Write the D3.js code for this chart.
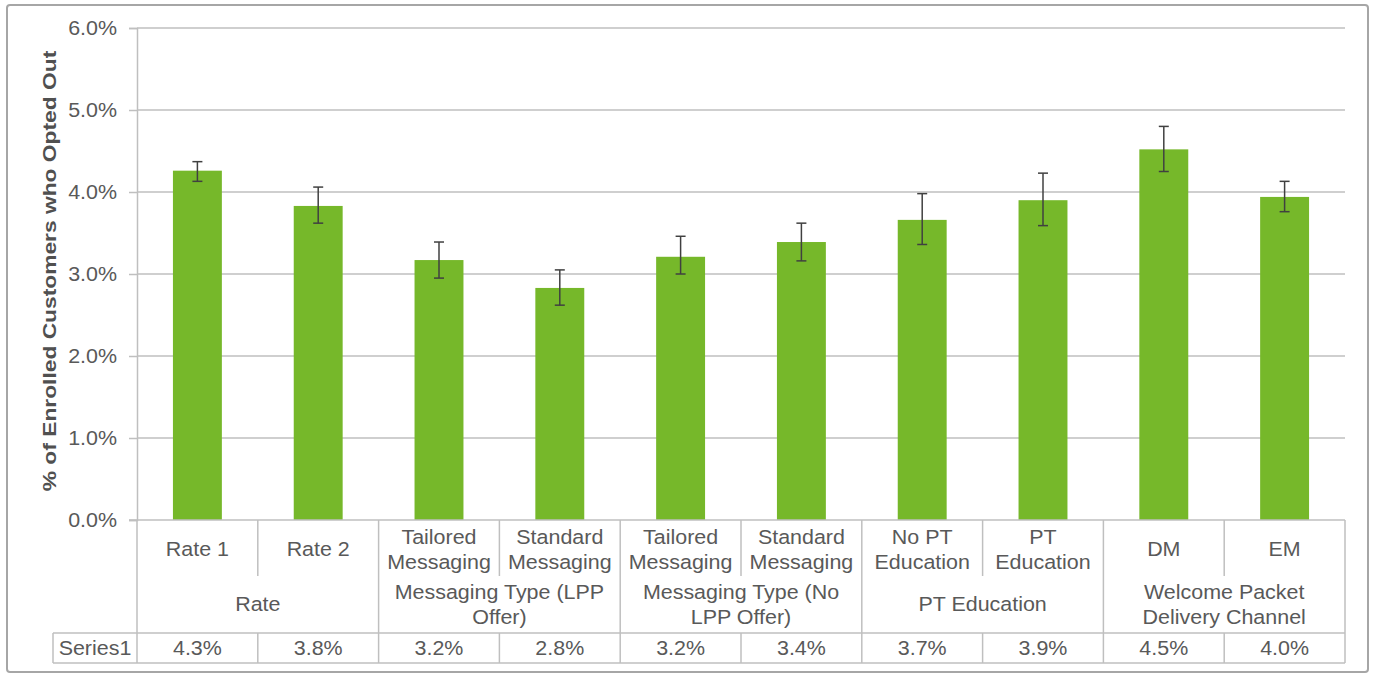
<!DOCTYPE html>
<html><head><meta charset="utf-8">
<script src="https://cdn.jsdelivr.net/npm/d3@7"></script>
<style>
html,body{margin:0;padding:0;background:#fff;}
svg{display:block;font-family:"Liberation Sans",Arial,sans-serif;}
</style></head>
<body><svg id="c" width="1375" height="673"></svg>
<script>
// ---- data ----
const categoryLabels = ["Rate 1","Rate 2","Tailored\nMessaging","Standard\nMessaging","Tailored\nMessaging","Standard\nMessaging","No PT\nEducation","PT\nEducation","DM","EM"];
const groupLabels = ["Rate","Messaging Type (LPP\nOffer)","Messaging Type (No\nLPP Offer)","PT Education","Welcome Packet\nDelivery Channel"];
const groupSizes = [2,2,2,2,2];
const values   = [4.26,3.83,3.17,2.83,3.21,3.39,3.66,3.90,4.52,3.94];
const errHigh  = [4.37,4.06,3.39,3.05,3.46,3.62,3.98,4.23,4.80,4.13];
const errLow   = [4.13,3.62,2.95,2.62,3.00,3.16,3.36,3.59,4.25,3.76];
const tableLabels = ["4.3%","3.8%","3.2%","2.8%","3.2%","3.4%","3.7%","3.9%","4.5%","4.0%"];
const seriesName = "Series1";
const yTicks = [0,1,2,3,4,5,6];
const yTitle = "% of Enrolled Customers who Opted Out";

// ---- layout ----
const L = 137, R = 1345, T = 28, B = 520;
const catRowBottom = 576, tableTop = 633, tableBottom = 663, seriesLeft = 53;
const textColor = "#595959", gridColor = "#bfbfbf", lineColor = "#bfbfbf", barColor = "#76b82a";
const fs = 19.5, sx = 1.1, lh = 25;

const svg = d3.select("#c");
svg.append("rect").attr("x",7).attr("y",5).attr("width",1361).attr("height",667)
  .attr("rx",3).attr("fill","#fff").attr("stroke","#a6a6a6").attr("stroke-width",2);

const idx = d3.range(values.length);
const y = d3.scaleLinear().domain([0,6]).range([B,T]);
const xCell = d3.scaleBand().domain(idx).range([L,R]).padding(0);
const xBar = d3.scaleBand().domain(idx).range([L,R]).paddingInner(0.595).paddingOuter(0.2975);

function addText(x, yy, str, opts={}){
  const g = svg.append("g").attr("transform",`translate(${x},${yy}) scale(${opts.sx||sx},1)`);
  const lines = str.split("\n");
  const off = -(lines.length-1)*lh/2;
  lines.forEach((ln,i)=>{
    g.append("text").attr("x",0).attr("y",off+i*lh)
      .attr("text-anchor",opts.anchor||"middle").attr("dominant-baseline","central")
      .attr("font-size",opts.size||fs).attr("font-weight",opts.weight||"normal")
      .attr("fill",textColor).text(ln);
  });
  return g;
}

// gridlines
svg.append("g").selectAll("line").data(yTicks.filter(d=>d>0)).join("line")
  .attr("x1",L).attr("x2",R).attr("y1",d=>y(d)).attr("y2",d=>y(d))
  .attr("stroke",gridColor).attr("stroke-width",1.5);

// y axis via d3
const yAxis = svg.append("g").attr("transform",`translate(${L},0)`)
  .call(d3.axisLeft(y).tickValues(yTicks).tickSize(8).tickFormat(()=>""));
yAxis.select(".domain").attr("stroke",lineColor).attr("stroke-width",1.5);
yAxis.selectAll(".tick line").attr("stroke",lineColor).attr("stroke-width",1.5);
yTicks.forEach(t=>addText(117, y(t), d3.format(".1f")(t)+"%", {anchor:"end"}));

// y title
svg.append("g").attr("transform",`translate(49,271) rotate(-90) scale(1.2,1)`)
  .append("text").attr("text-anchor","middle").attr("dominant-baseline","central")
  .attr("font-size",19).attr("font-weight","bold").attr("fill","#505050").text(yTitle);

// bars
svg.append("g").selectAll("rect").data(idx).join("rect")
  .attr("x",i=>xBar(i)).attr("width",xBar.bandwidth())
  .attr("y",i=>y(values[i])).attr("height",i=>y(0)-y(values[i]))
  .attr("fill",barColor);

// error bars
const eg = svg.append("g").attr("stroke","#404040").attr("stroke-width",1.5);
idx.forEach(i=>{
  const cx = xBar(i)+xBar.bandwidth()/2;
  eg.append("line").attr("x1",cx).attr("x2",cx).attr("y1",y(errHigh[i])).attr("y2",y(errLow[i]));
  eg.append("line").attr("x1",cx-5).attr("x2",cx+5).attr("y1",y(errHigh[i])).attr("y2",y(errHigh[i]));
  eg.append("line").attr("x1",cx-5).attr("x2",cx+5).attr("y1",y(errLow[i])).attr("y2",y(errLow[i]));
});

// x axis baseline
svg.append("line").attr("x1",L-8).attr("x2",R).attr("y1",B).attr("y2",B).attr("stroke",lineColor).attr("stroke-width",1.5);

// table lines
const tl = svg.append("g").attr("stroke",lineColor).attr("stroke-width",1.5);
tl.append("line").attr("x1",L).attr("x2",L).attr("y1",B).attr("y2",tableBottom);
tl.append("line").attr("x1",R).attr("x2",R).attr("y1",B).attr("y2",tableBottom);
tl.append("line").attr("x1",seriesLeft).attr("x2",R).attr("y1",tableTop).attr("y2",tableTop);
tl.append("line").attr("x1",seriesLeft).attr("x2",R).attr("y1",tableBottom).attr("y2",tableBottom);
tl.append("line").attr("x1",seriesLeft).attr("x2",seriesLeft).attr("y1",tableTop).attr("y2",tableBottom);
let start = 0;
const groupStarts = [];
groupSizes.forEach(n=>{groupStarts.push(start); start+=n;});
idx.slice(1).forEach(i=>{
  const xx = xCell(i);
  const isGroup = groupStarts.includes(i);
  tl.append("line").attr("x1",xx).attr("x2",xx).attr("y1",B).attr("y2",isGroup?tableBottom:catRowBottom);
  if(!isGroup) tl.append("line").attr("x1",xx).attr("x2",xx).attr("y1",tableTop).attr("y2",tableBottom);
});

// category labels
idx.forEach(i=>addText(xCell(i)+xCell.bandwidth()/2, 549, categoryLabels[i]));
// group labels
groupLabels.forEach((g,gi)=>{
  const s = groupStarts[gi], e = s+groupSizes[gi]-1;
  const cx = (xCell(s)+xCell(e)+xCell.bandwidth())/2;
  addText(cx, 604, g);
});
// table row
addText((seriesLeft+L)/2, 648, seriesName);
idx.forEach(i=>addText(xCell(i)+xCell.bandwidth()/2, 648, tableLabels[i]));
</script></body></html>
